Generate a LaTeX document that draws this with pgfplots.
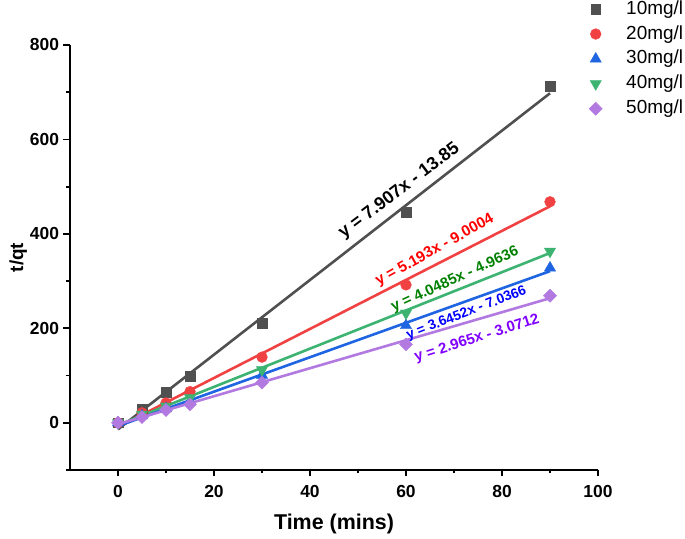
\documentclass[border=0pt]{standalone}
\usepackage{fontspec}
\setmainfont{Liberation Sans}
\usepackage{pgfplots}
\pgfplotsset{compat=1.18}

\definecolor{c10}{HTML}{505050}
\definecolor{c20}{HTML}{F04242}
\definecolor{c30}{HTML}{1F64E0}
\definecolor{c40}{HTML}{3CB371}
\definecolor{c50}{HTML}{B27AE0}
\definecolor{t40}{HTML}{008000}
\definecolor{t50}{HTML}{8000FF}

\begin{document}
\begin{tikzpicture}
\begin{axis}[
  name=ax,
  scale only axis,
  width=528bp, height=425bp,
  xmin=-10, xmax=100,
  ymin=-100, ymax=800,
  axis lines*=left,
  axis line style={line width=1.8bp, -},
  xtick={0,20,...,100},
  ytick={0,200,...,800},
  minor xtick={10,30,...,90},
  minor ytick={-100,100,300,500,700},
  tick align=outside,
  major tick length=6.5bp,
  minor tick length=3.5bp,
  every tick/.style={black, line width=1.8bp},
  /pgf/number format/assume math mode=true,
  ticklabel style={font=\bfseries\fontsize{17.5}{17.5}\selectfont},
  xticklabel style={yshift=-5bp},
  yticklabel style={xshift=-1bp},
  xlabel={\bfseries Time (mins)},
  ylabel={\bfseries t/qt},
  xlabel style={font=\bfseries\fontsize{21.5}{21.5}\selectfont, yshift=-10bp},
  ylabel style={font=\bfseries\fontsize{19}{19}\selectfont, yshift=-4bp},
  legend style={
    at={(0.983,1.106)}, anchor=north west,
    draw=none, fill=none, inner sep=0pt,
    font=\fontsize{19}{19}\selectfont,
    nodes={inner sep=0pt, text height=14bp, text depth=4bp},
    row sep=6.9bp, column sep=24bp,
    legend cell align=left,
  },
  legend image code/.code={\draw[#1] plot coordinates {(0bp,0bp)};},
  clip=false,
]
% fitted lines
\addplot[c10, line width=2.6bp, forget plot] coordinates {(0,-13.85) (90,697.78)};
\addplot[c20, line width=2.6bp, forget plot] coordinates {(0,-9.00) (90,458.37)};
\addplot[c40, line width=2.6bp, forget plot] coordinates {(0,-4.96) (90,359.40)};
\addplot[c30, line width=2.6bp, forget plot] coordinates {(0,-7.04) (90,321.03)};
\addplot[c50, line width=2.6bp, forget plot] coordinates {(0,-3.07) (90,263.78)};
% data
\addplot[only marks, mark=square*, mark size=4.8bp, color=c10] coordinates {
 (0,0) (5,30) (10,65) (15,98) (30,211) (60,446) (90,713)};
\addlegendentry{10mg/l}
\addplot[only marks, mark=*, mark size=5.4bp, color=c20] coordinates {
 (0,0) (5,21) (10,42) (15,66) (30,139) (60,292) (90,468)};
\addlegendentry{20mg/l}
\addplot[only marks, mark=triangle*, mark size=6.5bp, color=c30] coordinates {
 (0,0) (5,15) (10,30) (15,46) (30,101) (60,206) (90,328)};
\addlegendentry{30mg/l}
\addplot[only marks, mark=triangle*, mark size=6.5bp, mark options={rotate=180}, color=c40] coordinates {
 (0,0) (5,18) (10,35) (15,53) (30,112) (60,232) (90,363)};
\addlegendentry{40mg/l}
\addplot[only marks, mark=square*, mark size=4.6bp, mark options={rotate=45}, color=c50] coordinates {
 (0,0) (5,12) (10,27) (15,39) (30,85) (60,166) (90,269)};
\addlegendentry{50mg/l}
% equations
\node[rotate=37, font=\bfseries\fontsize{18}{18}\selectfont, black] at (axis cs:58.6,490) {y = 7.907x - 13.85};
\node[rotate=29, font=\bfseries\fontsize{15.3}{15.3}\selectfont, red] at (axis cs:66,365) {y = 5.193x - 9.0004};
\node[rotate=24.5, font=\bfseries\fontsize{15}{15}\selectfont, t40] at (axis cs:70.2,303) {y = 4.0485x - 4.9636};
\node[rotate=21, font=\bfseries\fontsize{13.8}{13.8}\selectfont, blue] at (axis cs:72.6,231.7) {y = 3.6452x - 7.0366};
\node[rotate=17.5, font=\bfseries\fontsize{15}{15}\selectfont, t50] at (axis cs:74.8,177.8) {y = 2.965x - 3.0712};
\end{axis}
\pgfresetboundingbox
\path ([xshift=-70bp,yshift=-69bp]ax.south west) rectangle ([xshift=87bp,yshift=45bp]ax.north east);
\end{tikzpicture}
\end{document}
